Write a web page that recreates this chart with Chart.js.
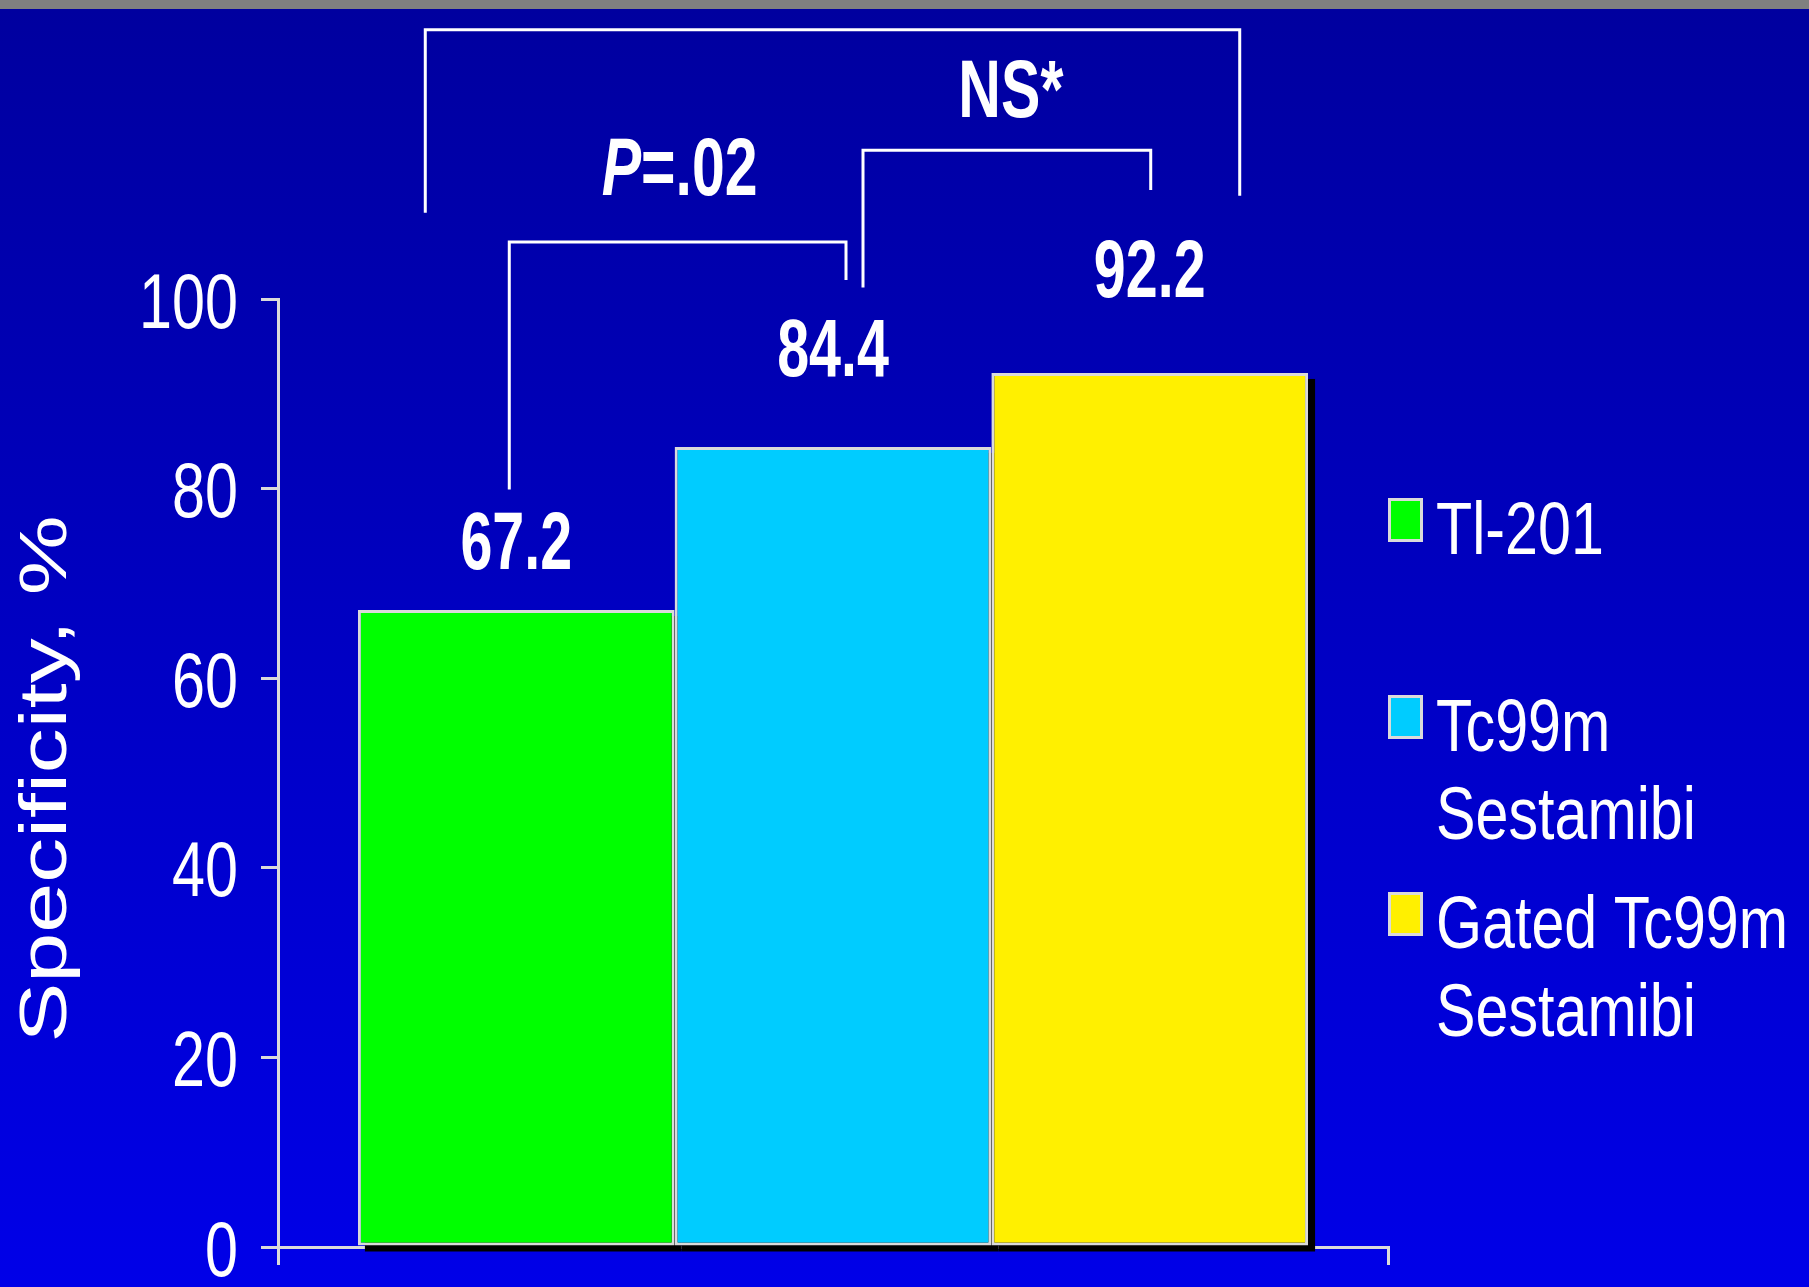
<!DOCTYPE html>
<html>
<head>
<meta charset="utf-8">
<script src="https://cdn.jsdelivr.net/npm/chart.js@4/dist/chart.umd.min.js"></script>
<style>
  html, body { margin: 0; padding: 0; }
  #wrap {
    width: 1809px;
    height: 1287px;
    background: linear-gradient(to bottom, #808080 0px, #808080 9px, #00009f 9px, #0000e8 1287px);
  }
  canvas { display: block; }
</style>
</head>
<body>
<div id="wrap"><canvas id="specChart" width="1809" height="1287"></canvas></div>
<script>
// Specificity by imaging method
const seriesLabels = [['Tl-201'], ['Tc99m', 'Sestamibi'], ['Gated Tc99m', 'Sestamibi']]
const specificity = [67.2, 84.4, 92.2]
const seriesColors = ['#00ff00', '#00ccff', '#fff000']
const yTicks = [0, 20, 40, 60, 80, 100]
const yTitle = 'Specificity, %'
const comparisonLabels = ['P=.02', 'NS*', '']

const sans = "'Liberation Sans', Arial, sans-serif"
const lineGray = '#dadada'

// brackets hang from the bars they compare, heights in axis units
const bracketLayout = [
  { from: 0, to: 1, dx: [-7, 13], top: 106, legs: [79.9, 102], textDx: 2, textY: 113.4 },
  { from: 1, to: 2, dx: [30, 1], top: 115.7, legs: [101.2, 111.5], textDx: 4, textY: 121.6 },
  { from: 0, to: 2, dx: [-91, 90], top: 128.4, legs: [109.1, 110.9] },
]
const valueLabelGap = [64, 93, 99]

// the slide text is tall and narrow, so scale it sideways
const drawSquashed = (ctx, text, x, y, font, sx, align = 'center') => {
  ctx.save()
  ctx.font = font
  ctx.translate(x, y)
  ctx.scale(sx, 1)
  ctx.textAlign = align
  ctx.fillText(text, 0, 0)
  ctx.restore()
}

const annotations = {
  id: 'annotations',
  beforeDatasetsDraw(chart) {
    // hard drop shadow behind the bars
    const { ctx } = chart
    ctx.save()
    ctx.fillStyle = '#000'
    chart.data.datasets.forEach((_, i) => {
      chart.getDatasetMeta(i).data.forEach((bar) => {
        ctx.fillRect(bar.x - bar.width / 2 + 7, bar.y + 6, bar.width, bar.base - bar.y)
      })
    })
    ctx.restore()
  },
  afterDraw(chart) {
    const { ctx, chartArea } = chart
    const y = chart.scales.y
    const barX = (i) => chart.getDatasetMeta(i).data[0].x
    const barTop = (i) => chart.getDatasetMeta(i).data[0].y
    const bold = `bold 82px ${sans}`
    const boldItalic = `italic bold 82px ${sans}`

    ctx.save()
    ctx.fillStyle = '#fff'
    ctx.textBaseline = 'middle'

    // y tick labels
    yTicks.forEach((v) => {
      drawSquashed(ctx, String(v), chartArea.left - 40, y.getPixelForValue(v) + 7, `78px ${sans}`, 0.76, 'right')
    })

    // y axis title, rotated and stretched along its length
    ctx.save()
    ctx.textBaseline = 'alphabetic'
    ctx.textAlign = 'center'
    ctx.font = `66px ${sans}`
    ctx.translate(66, (chartArea.top + chartArea.bottom) / 2 + 6)
    ctx.rotate(-Math.PI / 2)
    ctx.scale(1.36, 1)
    ctx.fillText(yTitle, 0, 0)
    ctx.restore()

    // values above the bars
    chart.data.datasets.forEach((ds, i) => {
      drawSquashed(ctx, ds.data[0].toFixed(1), barX(i), barTop(i) - valueLabelGap[i], bold, 0.7)
    })

    // comparison brackets
    ctx.strokeStyle = '#ffffff'
    ctx.lineWidth = 3
    bracketLayout.forEach((b, i) => {
      const x1 = barX(b.from) + b.dx[0]
      const x2 = barX(b.to) + b.dx[1]
      const yt = y.getPixelForValue(b.top)
      ctx.beginPath()
      ctx.moveTo(x1, y.getPixelForValue(b.legs[0]))
      ctx.lineTo(x1, yt)
      ctx.lineTo(x2, yt)
      ctx.lineTo(x2, y.getPixelForValue(b.legs[1]))
      ctx.stroke()

      const text = comparisonLabels[i]
      if (!text) return
      const cx = (x1 + x2) / 2 + b.textDx
      const cy = y.getPixelForValue(b.textY)
      if (text.startsWith('P')) {
        const rest = text.slice(1)
        ctx.font = boldItalic
        const w1 = ctx.measureText('P').width * 0.72
        ctx.font = bold
        const w2 = ctx.measureText(rest).width * 0.72
        const left = cx - (w1 + w2) / 2
        drawSquashed(ctx, 'P', left, cy, boldItalic, 0.72, 'left')
        drawSquashed(ctx, rest, left + w1, cy, bold, 0.72, 'left')
      } else {
        drawSquashed(ctx, text, cx, cy, bold, 0.72)
      }
    })

    // legend on the right
    const lx = chartArea.right
    ctx.textBaseline = 'alphabetic'
    seriesLabels.forEach((lines, i) => {
      const top = chartArea.top + 199 + i * 197
      ctx.fillStyle = lineGray
      ctx.fillRect(lx, top, 35, 44)
      ctx.fillStyle = seriesColors[i]
      ctx.fillRect(lx + 3, top + 3, 29, 38)
      ctx.fillStyle = '#fff'
      lines.forEach((line, j) => {
        drawSquashed(ctx, line, lx + 48, top + 56 + j * 88, `74px ${sans}`, 0.8, 'left')
      })
    })
    ctx.restore()
  },
}

const ctx = document.getElementById('specChart').getContext('2d')

new Chart(ctx, {
  type: 'bar',
  data: {
    labels: [''],
    datasets: specificity.map((v, i) => ({
      label: seriesLabels[i].join(' '),
      data: [v],
      backgroundColor: seriesColors[i],
      borderColor: lineGray,
      borderWidth: 3,
      borderSkipped: false,
      categoryPercentage: 0.856,
      barPercentage: 1,
    })),
  },
  options: {
    responsive: false,
    animation: false,
    layout: {
      padding: { top: 299, right: 421, bottom: 22, left: 0 },
    },
    plugins: {
      legend: { display: false },
      tooltip: { enabled: false },
    },
    scales: {
      x: {
        offset: true,
        grid: {
          offset: true,
          drawOnChartArea: false,
          tickLength: 18,
          color: lineGray,
          lineWidth: 3,
        },
        border: { display: true, color: lineGray, width: 3 },
        ticks: { display: false },
        afterFit(scale) {
          scale.height = 18
        },
      },
      y: {
        min: 0,
        max: 100,
        afterBuildTicks(scale) {
          scale.ticks = yTicks.map((v) => ({ value: v }))
        },
        grid: {
          drawOnChartArea: false,
          tickLength: 17,
          color: lineGray,
          lineWidth: 3,
        },
        border: { display: true, color: lineGray, width: 3 },
        ticks: { display: false },
        afterFit(scale) {
          scale.width = 278
          scale.paddingTop = 0
          scale.paddingBottom = 0
        },
      },
    },
  },
  plugins: [annotations],
})
</script>
</body>
</html>
